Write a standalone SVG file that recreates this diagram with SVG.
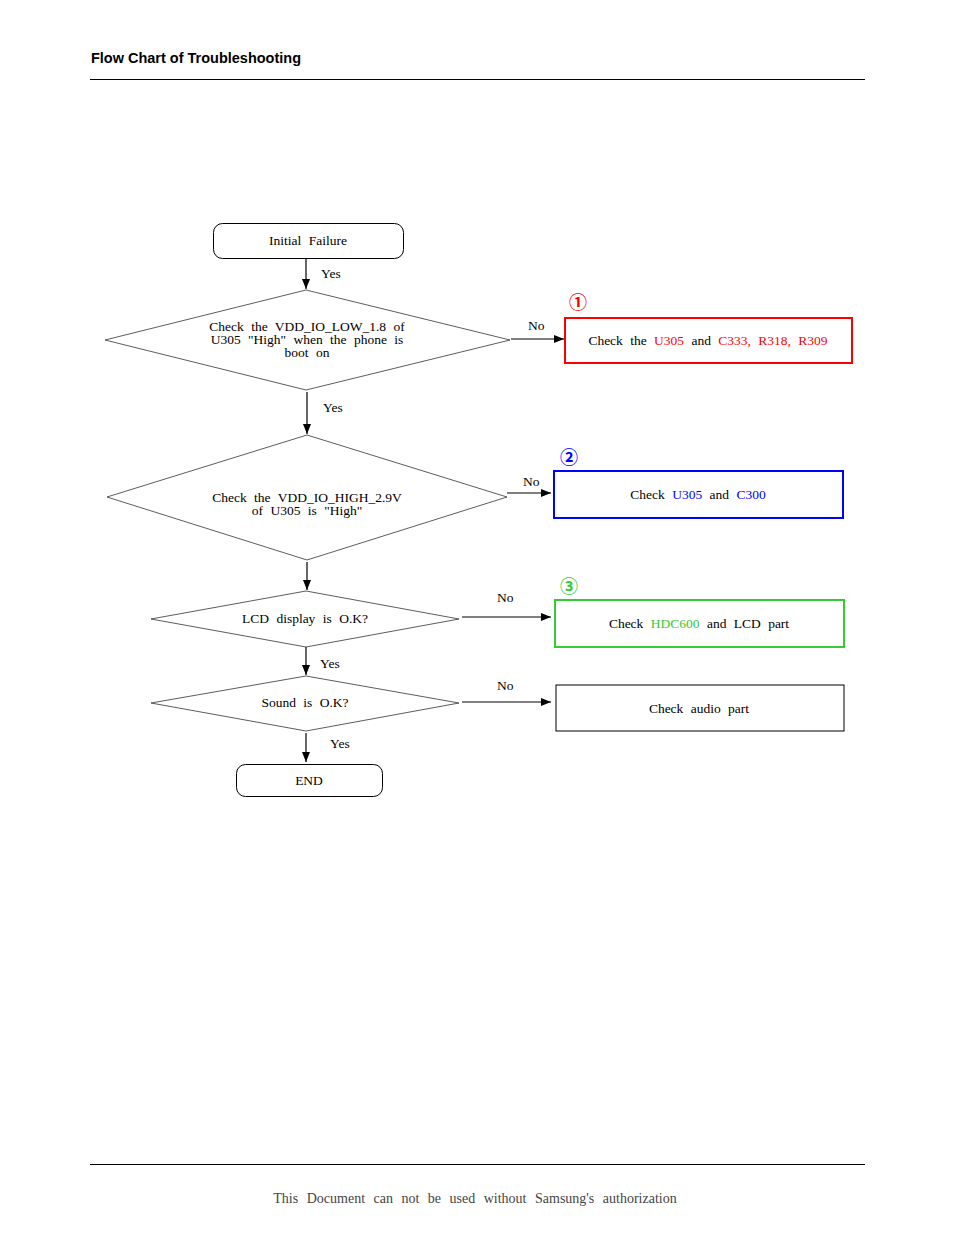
<svg xmlns="http://www.w3.org/2000/svg" width="954" height="1235" viewBox="0 0 954 1235">
<defs>
<marker id="ah" viewBox="0 0 10 8" refX="10" refY="4" markerWidth="10" markerHeight="8" markerUnits="userSpaceOnUse" orient="auto">
<path d="M0,0 L10,4 L0,8 Z" fill="#000"/>
</marker>
</defs>
<style>
.t{font-family:"Liberation Serif","Noto Serif",serif;font-size:13.5px;fill:#000;word-spacing:4px}
.m{text-anchor:middle}
.shape{fill:#fff;stroke:#000;stroke-width:1}
.dia{fill:#fff;stroke:#333;stroke-width:0.8}
.con{stroke:#000;stroke-width:1.2;fill:none;marker-end:url(#ah)}
.num{font-family:"Noto Sans CJK JP","Noto Sans CJK SC",sans-serif;font-size:18px;font-weight:bold;text-anchor:middle}
.r{fill:#ff0000}.b{fill:#0000ff}.g{fill:#33cc33}
</style>
<rect width="954" height="1235" fill="#fff"/>
<text x="91" y="63" font-family="Liberation Sans, Arial, sans-serif" font-weight="bold" font-size="15" textLength="210" lengthAdjust="spacingAndGlyphs">Flow Chart of Troubleshooting</text>
<line x1="90" y1="79.5" x2="865" y2="79.5" stroke="#000" stroke-width="1"/>

<g id="connectors">
<line class="con" x1="306" y1="258" x2="306" y2="289"/>
<line class="con" x1="511" y1="339" x2="564" y2="339"/>
<line class="con" x1="307" y1="392" x2="307" y2="434"/>
<line class="con" x1="507" y1="493" x2="551" y2="493"/>
<line class="con" x1="307" y1="562" x2="307" y2="590"/>
<line class="con" x1="462" y1="617" x2="551" y2="617"/>
<line class="con" x1="306" y1="647" x2="306" y2="675"/>
<line class="con" x1="462" y1="702" x2="551" y2="702"/>
<line class="con" x1="306" y1="733" x2="306" y2="762"/>
<text class="t" x="321" y="278">Yes</text>
<text class="t" x="528" y="330">No</text>
<text class="t" x="323" y="412">Yes</text>
<text class="t" x="523" y="486">No</text>
<text class="t" x="497" y="602">No</text>
<text class="t" x="320" y="668">Yes</text>
<text class="t" x="497" y="690">No</text>
<text class="t" x="330" y="748">Yes</text>
</g>

<g id="start">
<rect class="shape" x="213.5" y="223.5" width="190" height="35" rx="9"/>
<text class="t m" x="308" y="245">Initial Failure</text>
</g>

<g id="d1">
<polygon class="dia" points="105,340 306,290 510,340 306,390"/>
<text class="t m" x="307" y="331">Check the VDD_IO_LOW_1.8 of</text>
<text class="t m" x="307" y="344">U305 "High" when the phone is</text>
<text class="t m" x="307" y="357">boot on</text>
</g>

<g id="box1">
<rect x="565" y="318" width="287" height="45" fill="#fff" stroke="#ff0000" stroke-width="2"/>
<text class="t m" x="708" y="345">Check the <tspan class="r">U305</tspan> and <tspan class="r">C333, R318, R309</tspan></text>
<text class="num r" x="578" y="309">①</text>
</g>

<g id="d2">
<polygon class="dia" points="107,497 307,435 507,497 307,560"/>
<text class="t m" x="307" y="502">Check the VDD_IO_HIGH_2.9V</text>
<text class="t m" x="307" y="515">of U305 is "High"</text>
</g>

<g id="box2">
<rect x="554" y="471" width="289" height="47" fill="#fff" stroke="#0000ff" stroke-width="2"/>
<text class="t m" x="698" y="499">Check <tspan class="b">U305</tspan> and <tspan class="b">C300</tspan></text>
<text class="num b" x="569" y="464">②</text>
</g>

<g id="d3">
<polygon class="dia" points="151,619 306,591 459,619 306,647"/>
<text class="t m" x="305" y="623">LCD display is O.K?</text>
</g>

<g id="box3">
<rect x="555" y="600" width="289" height="47" fill="#fff" stroke="#33cc33" stroke-width="2"/>
<text class="t m" x="699" y="628">Check <tspan class="g">HDC600</tspan> and LCD part</text>
<text class="num g" x="569" y="593">③</text>
</g>

<g id="d4">
<polygon class="dia" points="151,703 306,676 459,703 306,731"/>
<text class="t m" x="305" y="707">Sound is O.K?</text>
</g>

<g id="box4">
<rect class="shape" x="556" y="685" width="288" height="46"/>
<text class="t m" x="699" y="713">Check audio part</text>
</g>

<g id="end">
<rect class="shape" x="236.5" y="764.5" width="146" height="32" rx="9"/>
<text class="t m" x="309" y="785">END</text>
</g>

<line x1="90" y1="1164.5" x2="865" y2="1164.5" stroke="#000" stroke-width="1"/>
<text class="t m" x="475" y="1203" style="fill:#444;font-size:14px;word-spacing:5px">This Document can not be used without Samsung's authorization</text>
</svg>
